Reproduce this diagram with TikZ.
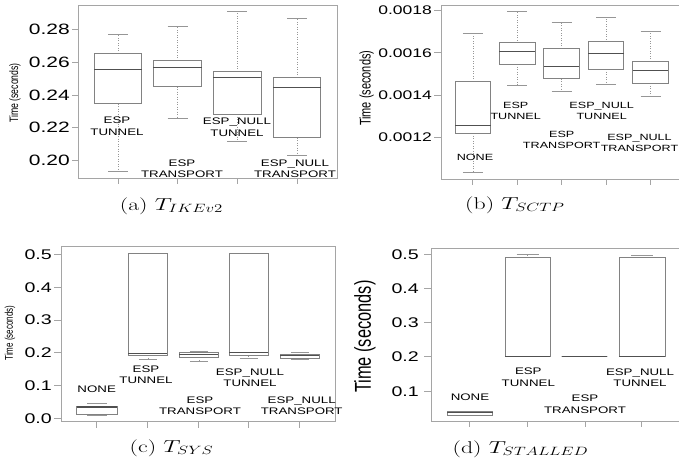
\documentclass[tikz,border=0pt]{standalone}
\usepackage{fontspec}
\usepackage{graphicx}
\usepackage{amsmath}
\newfontfamily\plotsf[FakeStretch=1.4]{Liberation Sans}
\newfontfamily\plotsfn{Liberation Sans}
\definecolor{framegray}{RGB}{165, 165, 165}
\definecolor{boxgray}{RGB}{130, 130, 130}
\definecolor{medgray}{RGB}{80, 80, 80}
\definecolor{whiskgray}{RGB}{150, 150, 150}
\usetikzlibrary{positioning}
% one box with whiskers: xl, xr, whisker top, box top, median, box bottom, whisker bottom, cap half width
\newcommand{\boxwhisk}[8]{%
  \pgfmathsetmacro{\bxmid}{(#1+#2)/2}
  \draw[whisk] (\bxmid,#4) -- (\bxmid,#3);
  \draw[whisk] (\bxmid,#6) -- (\bxmid,#7);
  \draw[whiskcap] (\bxmid-#8,#3) -- (\bxmid+#8,#3);
  \draw[whiskcap] (\bxmid-#8,#7) -- (\bxmid+#8,#7);
  \draw[boxline] (#1,#4) rectangle (#2,#6);
  \draw[medline] (#1,#5) -- (#2,#5);
}

\begin{document}
\begin{tikzpicture}[x=1pt, y=-1pt,
  plotframe/.style={draw=framegray, line width=0.6pt},
  axtick/.style={draw=framegray, line width=0.6pt},
  boxline/.style={draw=boxgray, line width=0.6pt},
  medline/.style={draw=medgray, line width=1.2pt},
  whisk/.style={draw=whiskgray, line width=0.5pt, dotted},
  whiskcap/.style={draw=whiskgray, line width=0.6pt},
  ticklab/.style={anchor=east, inner sep=0pt},
  grplab/.style={align=center, inner sep=0pt, font=\plotsf\fontsize{9.5}{11.5}\selectfont},
  caption/.style={inner sep=0pt, font=\fontsize{17}{20}\selectfont}]
  \clip (0,0) rectangle (679,463);
  \fill[white] (0,0) rectangle (679,463);

  % (a) T_IKEv2
  \draw[plotframe] (78,5) rectangle (337,178);
  \foreach \yy/\vv in {29.3/0.28, 62.3/0.26, 95.3/0.24, 127.7/0.22, 160.3/0.20} {
    \draw[axtick] (72,\yy) -- (78,\yy);
    \node[ticklab, font=\plotsf\fontsize{15}{18}\selectfont] at (70,\yy) {\vv};
  }
  \foreach \xx in {118, 177, 237, 297}
    \draw[axtick] (\xx,178) -- (\xx,184);
  \node[rotate=90, inner sep=0pt, font=\plotsfn\fontsize{8.7}{10}\selectfont] (ylaba) at (15,93) {\scalebox{1}[1.4]{Time (seconds)}};
  \boxwhisk{94.3}{141.7}{34.3}{53.3}{69.7}{103.7}{171.7}{10}
  \boxwhisk{153.3}{201.7}{26}{60}{67.7}{86.7}{118.3}{10}
  \boxwhisk{213.3}{261}{11.3}{71.3}{77.3}{114}{141.3}{10}
  \boxwhisk{273.3}{320.7}{18.7}{77.3}{87.7}{137.7}{155.7}{10}
  \node[grplab] (atun) at (117,126) {ESP\\TUNNEL};
  \node[grplab] (atra) at (182,168.5) {ESP\\TRANSPORT};
  \node[grplab] (antun) at (237,127) {ESP\_NULL\\TUNNEL};
  \node[grplab] (antra) at (295,168.5) {ESP\_NULL\\TRANSPORT};
  \node[caption] (capa) at (171.5,206) {\scalebox{1.4}[1]{(a) $T_{IKEv2}$}};

  % (b) T_SCTP
  \draw[plotframe] (441,5) rectangle (690,179.3);
  \foreach \yy/\vv in {10/0.0018, 52.7/0.0016, 95/0.0014, 137.3/0.0012} {
    \draw[axtick] (434,\yy) -- (441,\yy);
    \node[ticklab, font=\plotsf\fontsize{12.5}{15}\selectfont] at (432,\yy) {\vv};
  }
  \foreach \xx in {472.3, 517.3, 561.7, 606, 650.7}
    \draw[axtick] (\xx,179.3) -- (\xx,185);
  \node[rotate=90, inner sep=0pt, font=\plotsfn\fontsize{11}{13}\selectfont] (ylabb) at (366.7,88.3) {\scalebox{1}[1.4]{Time (seconds)}};
  \boxwhisk{455}{490.7}{33.3}{81.3}{125.7}{133.3}{172.7}{10}
  \boxwhisk{499.3}{535}{11}{42.7}{51.7}{64.3}{85.7}{10}
  \boxwhisk{543.7}{579.3}{22.7}{48.3}{66.7}{78.7}{91}{10}
  \boxwhisk{588.3}{623.7}{17.3}{41.7}{53.3}{69.3}{84.3}{10}
  \boxwhisk{632.7}{668.3}{31}{61.3}{70.7}{83.3}{96.7}{10}
  \node[grplab, font=\plotsf\fontsize{9}{11}\selectfont] (bnone) at (475,157.3) {NONE};
  \node[grplab, font=\plotsf\fontsize{9}{11}\selectfont] (btun) at (515.7,110.5) {ESP\\TUNNEL};
  \node[grplab, font=\plotsf\fontsize{9}{11}\selectfont] (btra) at (561.7,140.3) {ESP\\TRANSPORT};
  \node[grplab, font=\plotsf\fontsize{9}{11}\selectfont] (bntun) at (601.7,110.5) {ESP\_NULL\\TUNNEL};
  \node[grplab, font=\plotsf\fontsize{9}{11}\selectfont] (bntra) at (639.5,142.5) {ESP\_NULL\\TRANSPORT};
  \node[caption] (capb) at (515,205) {\scalebox{1.4}[1]{(b) $T_{SCTP}$}};

  % (c) T_SYS
  \draw[plotframe] (61,246) rectangle (335,421.7);
  \foreach \yy/\vv in {254.3/0.5, 287.3/0.4, 320/0.3, 352.7/0.2, 385.3/0.1, 418.3/0.0} {
    \draw[axtick] (54,\yy) -- (61,\yy);
    \node[ticklab, font=\plotsf\fontsize{14}{17}\selectfont] at (52,\yy) {\vv};
  }
  \foreach \xx in {96.7, 147.7, 198.3, 248.3, 299.3}
    \draw[axtick] (\xx,421.7) -- (\xx,428);
  \node[rotate=90, inner sep=0pt, font=\plotsfn\fontsize{8}{10}\selectfont] (ylabc) at (10,333) {\scalebox{1}[1.4]{Time (seconds)}};
  \boxwhisk{76.7}{117.3}{403.7}{406}{407}{414}{415}{10}
  \boxwhisk{128.3}{167.3}{253.7}{253.7}{353.3}{355}{359.3}{9}
  \boxwhisk{179.3}{218.3}{351}{352.3}{354.3}{357.3}{361.3}{9}
  \boxwhisk{229}{268.3}{253.7}{253.7}{352.7}{355.7}{358.3}{9}
  \boxwhisk{280}{319.3}{352}{354.3}{355.3}{358}{359.3}{9}
  \node[grplab] (cnone) at (96.7,389.3) {NONE};
  \node[grplab] (ctun) at (146,374.5) {ESP\\TUNNEL};
  \node[grplab] (ctra) at (200,405.5) {ESP\\TRANSPORT};
  \node[grplab] (cntun) at (250,377.8) {ESP\_NULL\\TUNNEL};
  \node[grplab] (cntra) at (301.7,405.5) {ESP\_NULL\\TRANSPORT};
  \node[caption] (capc) at (171.5,448) {\scalebox{1.4}[1]{(c) $T_{SYS}$}};

  % (d) T_STALLED
  \draw[plotframe] (431.7,248.3) rectangle (690,421);
  \foreach \yy/\vv in {254.3/0.5, 288.3/0.4, 322.7/0.3, 356.7/0.2, 391.7/0.1} {
    \draw[axtick] (424,\yy) -- (431.7,\yy);
    \node[ticklab, font=\plotsf\fontsize{14}{17}\selectfont] at (419,\yy) {\vv};
  }
  \foreach \xx in {469.3, 527.7, 585, 641.7}
    \draw[axtick] (\xx,421) -- (\xx,427);
  \node[rotate=90, inner sep=0pt, font=\plotsfn\fontsize{16.4}{19}\selectfont] (ylabd) at (365,336.7) {\scalebox{1}[1.4]{Time (seconds)}};
  \boxwhisk{447.3}{492.7}{411.7}{411.7}{412.5}{415}{415}{0}
  \boxwhisk{505}{550}{254.3}{257.7}{356.7}{356.7}{356.7}{11}
  \boxwhisk{561.7}{607.3}{356.7}{356.7}{356.7}{356.7}{356.7}{0}
  \boxwhisk{619}{665}{255}{257.7}{356.7}{356.7}{356.7}{11}
  \node[grplab] (dnone) at (470,397.7) {NONE};
  \node[grplab] (dtun) at (528.3,377) {ESP\\TUNNEL};
  \node[grplab] (dtra) at (585,404) {ESP\\TRANSPORT};
  \node[grplab] (dntun) at (640,377.5) {ESP\_NULL\\TUNNEL};
  \node[caption] (capd) at (520.5,449) {\scalebox{1.4}[1]{(d) $T_{STALLED}$}};
\end{tikzpicture}
\end{document}
